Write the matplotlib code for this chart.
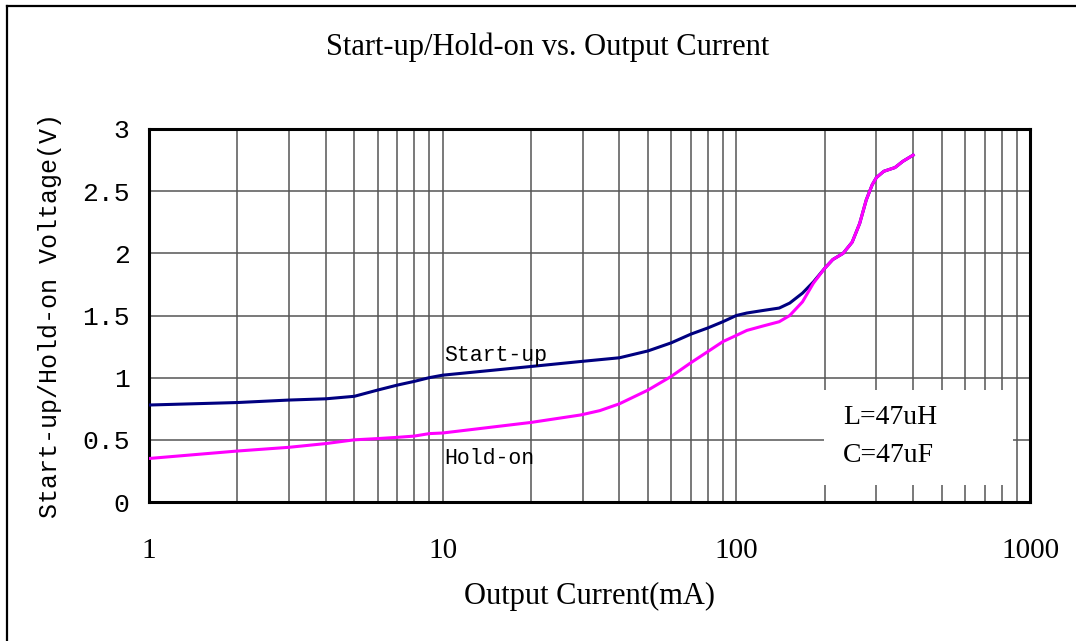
import matplotlib
matplotlib.use("Agg")
import matplotlib.pyplot as plt
from matplotlib.lines import Line2D
from matplotlib.ticker import FixedLocator, NullFormatter

# Output current (mA) and voltages
startup_i = [1, 2, 3, 4, 5, 6, 7, 8, 9, 10, 20, 29.5, 40, 50, 60, 70, 80,
             90, 100, 108.6, 123, 140, 152, 168, 183, 200, 213, 231, 248,
             263, 277, 290, 300, 318, 347, 369, 400]
startup_v = [0.78, 0.80, 0.82, 0.83, 0.85, 0.90, 0.94, 0.97, 1.00, 1.02,
             1.09, 1.13, 1.16, 1.215, 1.28, 1.35, 1.40, 1.45, 1.50, 1.52,
             1.54, 1.56, 1.60, 1.68, 1.77, 1.88, 1.95, 2.00, 2.09, 2.24,
             2.43, 2.55, 2.61, 2.66, 2.69, 2.74, 2.79]

holdon_i = [1, 2, 3, 4, 5, 6, 7, 8, 9, 10, 20, 29.5, 34.3, 40, 50, 60, 70,
            80, 90, 100, 108.6, 123, 140, 152, 168, 183, 200, 213, 231, 248,
            263, 277, 290, 300, 318, 347, 369, 400]
holdon_v = [0.35, 0.41, 0.44, 0.47, 0.50, 0.51, 0.52, 0.53, 0.55, 0.555,
            0.64, 0.70, 0.735, 0.79, 0.90, 1.01, 1.12, 1.21, 1.29, 1.34,
            1.38, 1.415, 1.45, 1.50, 1.61, 1.76, 1.88, 1.95, 2.00, 2.09,
            2.24, 2.43, 2.55, 2.61, 2.66, 2.69, 2.74, 2.79]

y_ticks = [0, 0.5, 1, 1.5, 2, 2.5, 3]
y_labels = ["0", "0.5", "1", "1.5", "2", "2.5", "3"]
x_ticks = [1, 10, 100, 1000]

serif = "Liberation Serif"
mono = "Liberation Mono"

fig = plt.figure(figsize=(10.76, 6.41), dpi=100)
ax = fig.add_axes([149 / 1076, 1 - 502 / 641, 881 / 1076, 373 / 641])

ax.plot(startup_i, startup_v, color="#000080", lw=2.2, zorder=3,
        solid_joinstyle="round")
ax.plot(holdon_i, holdon_v, color="#ff00ff", lw=2.2, zorder=4,
        solid_joinstyle="round")

ax.set_xscale("log")
ax.set_xlim(1, 1000)
ax.set_ylim(0, 3)

ax.xaxis.set_major_locator(FixedLocator(x_ticks))
minor = [m * d for d in (1, 10, 100) for m in range(2, 10)]
ax.xaxis.set_minor_locator(FixedLocator(minor))
ax.xaxis.set_minor_formatter(NullFormatter())
ax.set_xticklabels([str(t) for t in x_ticks], fontfamily=serif, fontsize=21)
ax.set_yticks(y_ticks)
ax.set_yticklabels(y_labels, fontfamily=mono, fontsize=19)

ax.grid(True, which="both", color="#555555", lw=1.1, zorder=1)
ax.tick_params(axis="both", which="both", direction="in", length=0)
ax.tick_params(axis="x", pad=26)
ax.tick_params(axis="y", pad=14)
for s in ax.spines.values():
    s.set_linewidth(2.2)
    s.set_color("black")

ax.set_xlabel("Output Current(mA)", fontfamily=serif, fontsize=22, labelpad=13)
ax.set_ylabel("Start-up/Hold-on Voltage(V)", fontfamily=mono, fontsize=18,
              labelpad=14)
fig.text(548 / 1076, 1 - 47 / 641, "Start-up/Hold-on vs. Output Current",
         fontfamily=serif, fontsize=22, ha="center", va="center")

ax.text(10.1, 1.18, "Start-up", fontfamily=mono, fontsize=15.5, va="center",
        ha="left")
ax.text(10.1, 0.35, "Hold-on", fontfamily=mono, fontsize=15.5, va="center",
        ha="left")

# white box with L / C values
box = plt.Rectangle((824 / 1076, 1 - 485 / 641), 189 / 1076, 95 / 641,
                    transform=fig.transFigure, facecolor="white",
                    edgecolor="none", zorder=5)
fig.patches.append(box)
fig.text(843 / 1076, 1 - 418 / 641, "L=47uH", fontfamily=serif, fontsize=20,
         va="center", ha="left", zorder=6)
fig.text(843 / 1076, 1 - 455 / 641, "C=47uF", fontfamily=serif, fontsize=20,
         va="center", ha="left", zorder=6)

# frame lines at top and left of the picture
fig.add_artist(Line2D([7 / 1076, 7 / 1076], [0, 1 - 6 / 641], color="black",
                      lw=1.6, transform=fig.transFigure))
fig.add_artist(Line2D([7 / 1076, 1], [1 - 6 / 641, 1 - 6 / 641],
                      color="black", lw=1.6, transform=fig.transFigure))

fig.savefig("out.png", dpi=100)
